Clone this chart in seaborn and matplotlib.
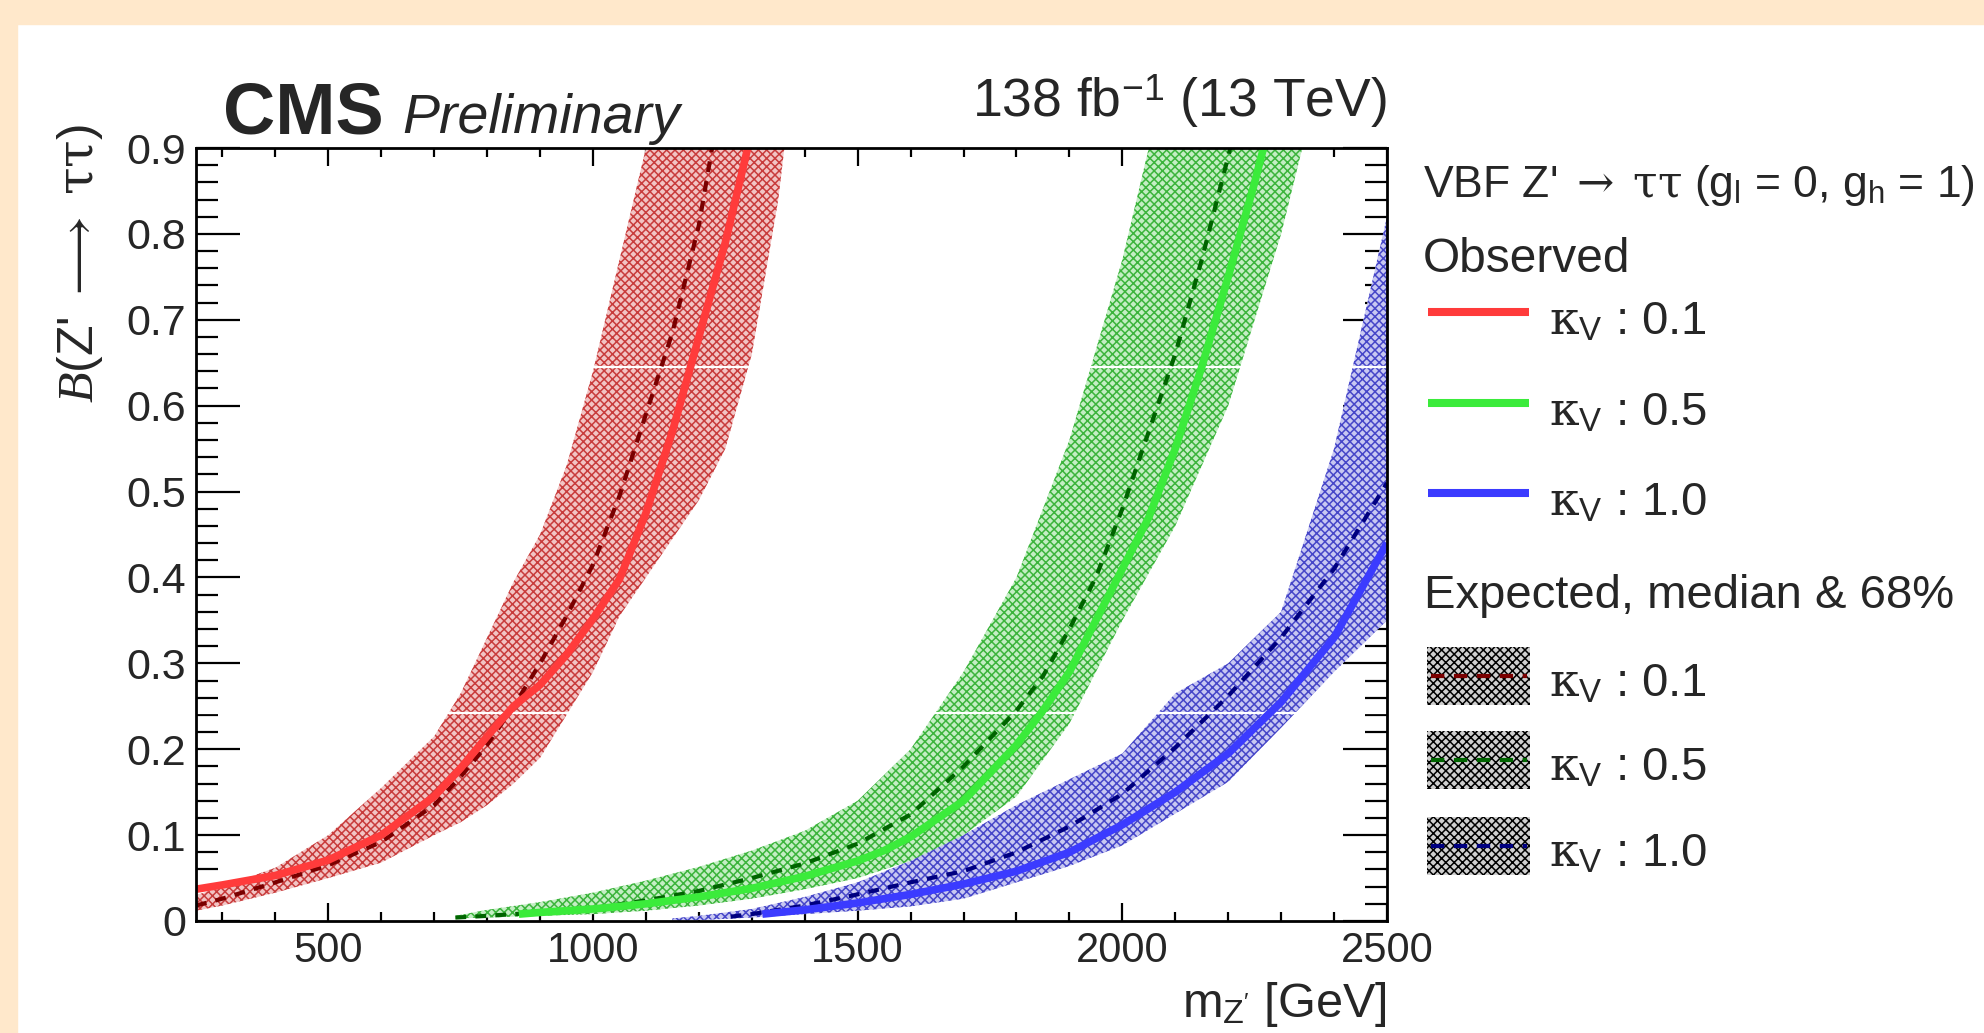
import numpy as np
import pandas as pd
import matplotlib
matplotlib.use("Agg")
import matplotlib.pyplot as plt
import seaborn as sns
from matplotlib.lines import Line2D
from matplotlib.patches import Rectangle
from matplotlib.ticker import MultipleLocator, FuncFormatter

# ---------------- data ----------------
# kappa_V = 0.1
mass_r = [250, 300, 400, 500, 600, 700, 750, 800, 850, 900, 950, 1000, 1050, 1100, 1150, 1200, 1250, 1300, 1350, 1400]
obs_r = [0.037, 0.042, 0.053, 0.071, 0.100, 0.145, 0.178, 0.215, 0.250, 0.275, 0.310, 0.352, 0.398, 0.475, 0.570, 0.680, 0.790, 0.920, 1.05, 1.20]
exp_r = [0.018, 0.026, 0.045, 0.065, 0.092, 0.135, 0.168, 0.205, 0.250, 0.300, 0.355, 0.415, 0.495, 0.590, 0.685, 0.810, 0.990, 1.20, 1.40, 1.60]
hi_r = [0.030, 0.040, 0.062, 0.100, 0.155, 0.215, 0.265, 0.330, 0.395, 0.450, 0.530, 0.640, 0.770, 0.900, 1.05, 1.20, 1.40, 1.60, 1.80, 2.00]
lo_r = [0.012, 0.018, 0.033, 0.050, 0.068, 0.100, 0.115, 0.135, 0.160, 0.190, 0.240, 0.290, 0.355, 0.400, 0.445, 0.490, 0.550, 0.660, 0.840, 1.10]

# kappa_V = 0.5
mass_g_band = [740, 800, 900, 1000, 1100, 1200, 1300, 1400, 1500, 1600, 1650, 1700, 1800, 1900, 2000, 2050, 2100, 2200, 2300, 2400]
hi_g = [0.006, 0.013, 0.022, 0.033, 0.047, 0.063, 0.082, 0.105, 0.140, 0.200, 0.245, 0.290, 0.400, 0.560, 0.770, 0.900, 1.03, 1.30, 1.60, 1.90]
lo_g = [0.003, 0.004, 0.006, 0.008, 0.012, 0.018, 0.026, 0.037, 0.050, 0.070, 0.083, 0.100, 0.145, 0.230, 0.350, 0.405, 0.460, 0.600, 0.800, 1.05]
mass_g_exp = [740, 800, 900, 1000, 1100, 1200, 1300, 1400, 1500, 1600, 1700, 1800, 1850, 1900, 1950, 2000, 2050, 2100, 2150, 2200, 2250, 2300]
exp_g = [0.004, 0.006, 0.010, 0.015, 0.024, 0.035, 0.050, 0.067, 0.090, 0.124, 0.180, 0.245, 0.285, 0.340, 0.400, 0.480, 0.570, 0.660, 0.770, 0.890, 1.02, 1.15]
mass_g_obs = [860, 900, 1000, 1100, 1200, 1300, 1400, 1500, 1550, 1600, 1700, 1800, 1850, 1900, 1950, 2000, 2050, 2100, 2150, 2200, 2250, 2300, 2350]
obs_g = [0.008, 0.010, 0.014, 0.020, 0.028, 0.038, 0.052, 0.070, 0.082, 0.098, 0.140, 0.205, 0.245, 0.290, 0.350, 0.410, 0.470, 0.550, 0.645, 0.750, 0.860, 0.980, 1.10]

# kappa_V = 1.0
mass_b_band = [1150, 1200, 1300, 1400, 1500, 1600, 1700, 1800, 1900, 2000, 2100, 2200, 2300, 2400, 2500]
hi_b = [0.003, 0.006, 0.014, 0.028, 0.045, 0.070, 0.100, 0.135, 0.165, 0.195, 0.265, 0.300, 0.360, 0.550, 0.820]
lo_b = [0.000, 0.001, 0.004, 0.008, 0.012, 0.017, 0.026, 0.045, 0.064, 0.088, 0.125, 0.162, 0.225, 0.290, 0.350]
mass_b_exp = [1260, 1300, 1400, 1500, 1600, 1700, 1800, 1900, 2000, 2100, 2200, 2300, 2400, 2500]
exp_b = [0.005, 0.008, 0.018, 0.031, 0.045, 0.058, 0.080, 0.110, 0.148, 0.202, 0.262, 0.330, 0.410, 0.510]
mass_b_obs = [1320, 1400, 1500, 1600, 1700, 1800, 1900, 2000, 2100, 2200, 2300, 2400, 2500]
obs_b = [0.008, 0.013, 0.021, 0.031, 0.043, 0.058, 0.080, 0.112, 0.150, 0.195, 0.255, 0.330, 0.440]

kappa_labels = ["0.1", "0.5", "1.0"]
x_ticks = [500, 1000, 1500, 2000, 2500]
y_ticks = [0, 0.1, 0.2, 0.3, 0.4, 0.5, 0.6, 0.7, 0.8, 0.9]

# ---------------- style ----------------
sns.set_theme(style="ticks")
plt.rcParams['font.family'] = ['Liberation Sans', 'DejaVu Sans']
plt.rcParams['mathtext.fontset'] = 'custom'
plt.rcParams['mathtext.rm'] = 'Liberation Sans'
plt.rcParams['mathtext.it'] = 'Liberation Serif:italic'
plt.rcParams['mathtext.bf'] = 'Liberation Sans:bold'
plt.rcParams['mathtext.sf'] = 'DejaVu Serif'
plt.rcParams['hatch.linewidth'] = 1.1

obs_colors = ['#FF3B3B', '#3BEB3B', '#3B3BFF']
exp_colors = ['#7A0000', '#006400', '#000080']
band_face = ['#F2C4C4', '#C4EEC4', '#C8C8F2']
band_hatch = ['#C83C3C', '#3CB43C', '#4646C8']

W, H = 1984, 1033
fig = plt.figure(figsize=(W / 100, H / 100), dpi=100, facecolor='white')


def fx(px):
    return px / W


def fy(py):
    return 1 - py / H


orange = '#FFE8CB'
fig.patches.append(Rectangle((0, fy(24)), 1, 24 / H, transform=fig.transFigure, color=orange, zorder=0))
fig.patches.append(Rectangle((0, 0), 17 / W, 1, transform=fig.transFigure, color=orange, zorder=0))

ax = fig.add_axes([fx(196), fy(921), fx(1387) - fx(196), fy(148) - fy(921)])
ax.set_facecolor('white')

bands = [(mass_r, lo_r, hi_r), (mass_g_band, lo_g, hi_g), (mass_b_band, lo_b, hi_b)]
exps = [(mass_r, exp_r), (mass_g_exp, exp_g), (mass_b_exp, exp_b)]
obss = [(mass_r, obs_r), (mass_g_obs, obs_g), (mass_b_obs, obs_b)]

for i, (m, lo, hi) in enumerate(bands):
    ax.fill_between(m, lo, hi, facecolor=band_face[i], edgecolor=band_hatch[i],
                    hatch='xxxx', linewidth=0, zorder=1)

# thin white rendering seams visible across the bands in the original
for yy in [0.242, 0.645]:
    ax.axhline(yy, color='white', lw=1.6, zorder=1.5)

for i, (m, e) in enumerate(exps):
    sns.lineplot(x=m, y=e, ax=ax, color=exp_colors[i], linewidth=3.0,
                 linestyle=(0, (2.6, 2.2)), estimator=None, sort=False, zorder=3)

for i, (m, o) in enumerate(obss):
    sns.lineplot(x=m, y=o, ax=ax, color=obs_colors[i], linewidth=5.5,
                 estimator=None, sort=False, zorder=4, solid_capstyle='butt')

ax.set_xlim(250, 2500)
ax.set_ylim(0, 0.9)
ax.set_xlabel('')
ax.set_ylabel('')
ax.set_xticks(x_ticks)
ax.set_yticks(y_ticks)
ax.xaxis.set_minor_locator(MultipleLocator(100))
ax.yaxis.set_minor_locator(MultipleLocator(0.02))
ax.yaxis.set_major_formatter(FuncFormatter(lambda v, p: f"{v:g}"))
ax.xaxis.set_major_formatter(FuncFormatter(lambda v, p: f"{v:g}"))
ax.tick_params(which='both', direction='in', top=True, right=True, color='black', width=1.6)
ax.tick_params(axis='x', which='major', length=13, labelsize=30, pad=7)
ax.tick_params(axis='x', which='minor', length=6.5)
ax.tick_params(axis='y', which='major', length=32, labelsize=31, pad=7)
ax.tick_params(axis='y', which='minor', length=16)
for s in ax.spines.values():
    s.set_linewidth(2.0)
    s.set_color('black')
    s.set_zorder(5)

arrow = r"$\mathsf{\rightarrow}$"
long_arrow = r"$\longrightarrow$"
tautau = r"$\mathsf{\tau\tau}$"

# axis titles
fig.text(fx(1387), fy(1017), r"m$_{\mathrm{Z'}}$ [GeV]", ha='right', va='baseline', fontsize=35)
fig.text(fx(80), fy(124), r"$\mathit{B}$(Z' " + long_arrow + " " + tautau + ")", rotation=90,
         ha='center', va='top', fontsize=36)

# CMS labels
fig.text(fx(223), fy(133), "CMS", fontweight='bold', fontsize=52, va='baseline', ha='left')
fig.text(fx(402), fy(133), "Preliminary", style='italic', fontsize=40, va='baseline', ha='left')
fig.text(fx(1387), fy(117), r"138 fb$^{\mathrm{-1}}$ (13 TeV)", fontsize=38.5, va='baseline', ha='right')

# legend
fig.text(fx(1423), fy(197), r"VBF Z' " + arrow + " " + tautau + r" (g$_{\mathrm{l}}$ = 0, g$_{\mathrm{h}}$ = 1)",
         fontsize=32, va='baseline', ha='left')
fig.text(fx(1423), fy(272), "Observed", fontsize=34.5, va='baseline', ha='left')
obs_rows = [312, 403, 493]
for i, yy in enumerate(obs_rows):
    fig.add_artist(Line2D([fx(1428), fx(1529)], [fy(yy), fy(yy)], transform=fig.transFigure,
                          color=obs_colors[i], lw=5.8, solid_capstyle='butt'))
    fig.text(fx(1549), fy(yy + 23), r"$\mathsf{\kappa}_{\mathrm{V}}$ : " + kappa_labels[i],
             fontsize=34, va='baseline', ha='left')

fig.text(fx(1424), fy(608), "Expected, median & 68%", fontsize=34, va='baseline', ha='left')
exp_rows = [676, 760, 846]
for i, yc in enumerate(exp_rows):
    fig.patches.append(Rectangle((fx(1427), fy(yc + 29)), fx(1530) - fx(1427), 58 / H,
                                 transform=fig.transFigure, facecolor='#CFCFCF', edgecolor='black',
                                 hatch='xxxx', linewidth=0))
    fig.add_artist(Line2D([fx(1431), fx(1527)], [fy(yc), fy(yc)], transform=fig.transFigure,
                          color=exp_colors[i], lw=3.0, linestyle=(0, (3.2, 2.3))))
    fig.text(fx(1549), fy(yc + 21), r"$\mathsf{\kappa}_{\mathrm{V}}$ : " + kappa_labels[i],
             fontsize=34, va='baseline', ha='left')

fig.savefig("out.png", dpi=100, facecolor='white')
